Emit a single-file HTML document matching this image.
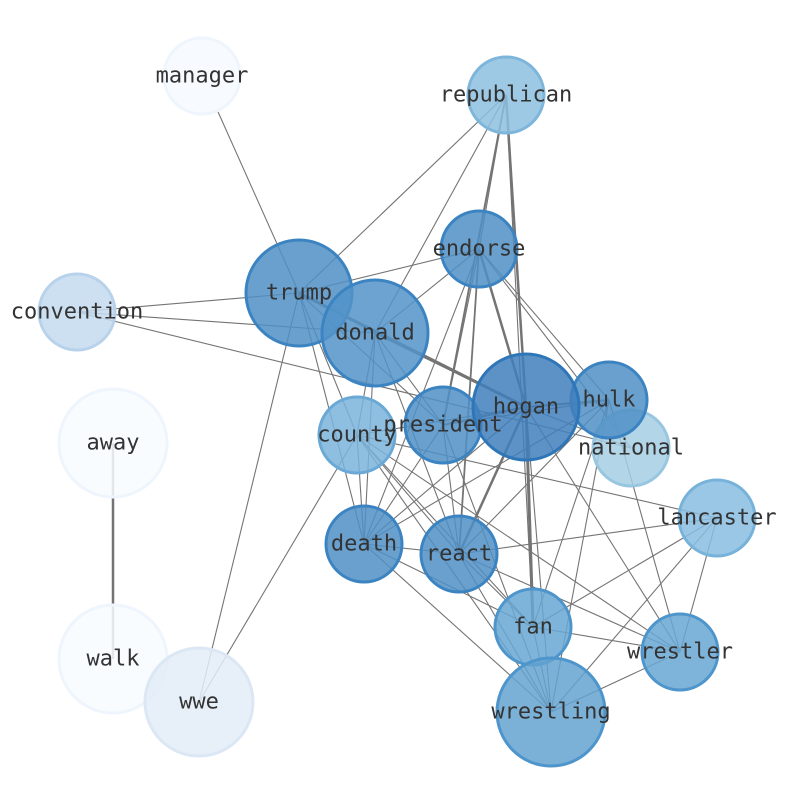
<!DOCTYPE html>
<html><head><meta charset="utf-8"><style>
html,body{margin:0;padding:0;background:#fff;width:794px;height:790px;overflow:hidden}
text{font-family:"DejaVu Sans Mono","Liberation Mono",monospace;font-size:22px;fill:#333;text-anchor:middle;dominant-baseline:central}
</style></head><body>
<svg width="794" height="790" xmlns="http://www.w3.org/2000/svg">
<g stroke="#666" stroke-width="1.1" opacity="0.9">
<line x1="202" y1="76" x2="299" y2="293"/>
<line x1="506" y1="95" x2="299" y2="293"/>
<line x1="506" y1="95" x2="375" y2="333"/>
<line x1="506" y1="95" x2="526" y2="407" stroke-width="2.5"/>
<line x1="506" y1="95" x2="443" y2="425" stroke-width="2"/>
<line x1="506" y1="95" x2="533" y2="627"/>
<line x1="506" y1="95" x2="479" y2="249"/>
<line x1="479" y1="249" x2="299" y2="293"/>
<line x1="479" y1="249" x2="375" y2="333"/>
<line x1="479" y1="249" x2="526" y2="407" stroke-width="2.5"/>
<line x1="479" y1="249" x2="609" y2="400"/>
<line x1="479" y1="249" x2="631" y2="448"/>
<line x1="479" y1="249" x2="364" y2="544"/>
<line x1="479" y1="249" x2="459" y2="554" stroke-width="1.8"/>
<line x1="479" y1="249" x2="443" y2="425"/>
<line x1="299" y1="293" x2="77" y2="312"/>
<line x1="299" y1="293" x2="375" y2="333"/>
<line x1="299" y1="293" x2="526" y2="407" stroke-width="3"/>
<line x1="299" y1="293" x2="364" y2="544"/>
<line x1="299" y1="293" x2="199" y2="702"/>
<line x1="299" y1="293" x2="443" y2="425"/>
<line x1="299" y1="293" x2="357" y2="435"/>
<line x1="77" y1="312" x2="375" y2="333"/>
<line x1="77" y1="312" x2="631" y2="448"/>
<line x1="375" y1="333" x2="526" y2="407" stroke-width="2"/>
<line x1="375" y1="333" x2="443" y2="425"/>
<line x1="375" y1="333" x2="357" y2="435"/>
<line x1="375" y1="333" x2="364" y2="544"/>
<line x1="375" y1="333" x2="459" y2="554"/>
<line x1="526" y1="407" x2="609" y2="400" stroke-width="2"/>
<line x1="526" y1="407" x2="443" y2="425" stroke-width="2"/>
<line x1="526" y1="407" x2="459" y2="554" stroke-width="2.5"/>
<line x1="526" y1="407" x2="533" y2="627" stroke-width="3"/>
<line x1="526" y1="407" x2="551" y2="712"/>
<line x1="526" y1="407" x2="364" y2="544"/>
<line x1="526" y1="407" x2="680" y2="652"/>
<line x1="526" y1="407" x2="357" y2="435"/>
<line x1="526" y1="407" x2="631" y2="448"/>
<line x1="609" y1="400" x2="443" y2="425"/>
<line x1="609" y1="400" x2="459" y2="554"/>
<line x1="609" y1="400" x2="533" y2="627"/>
<line x1="609" y1="400" x2="551" y2="712"/>
<line x1="609" y1="400" x2="364" y2="544"/>
<line x1="609" y1="400" x2="680" y2="652"/>
<line x1="357" y1="435" x2="459" y2="554"/>
<line x1="357" y1="435" x2="533" y2="627"/>
<line x1="357" y1="435" x2="551" y2="712"/>
<line x1="357" y1="435" x2="680" y2="652"/>
<line x1="357" y1="435" x2="717" y2="518"/>
<line x1="357" y1="435" x2="364" y2="544"/>
<line x1="357" y1="435" x2="199" y2="702"/>
<line x1="443" y1="425" x2="459" y2="554"/>
<line x1="443" y1="425" x2="364" y2="544"/>
<line x1="443" y1="425" x2="551" y2="712"/>
<line x1="717" y1="518" x2="459" y2="554"/>
<line x1="717" y1="518" x2="533" y2="627"/>
<line x1="717" y1="518" x2="551" y2="712"/>
<line x1="717" y1="518" x2="680" y2="652"/>
<line x1="364" y1="544" x2="459" y2="554"/>
<line x1="364" y1="544" x2="533" y2="627"/>
<line x1="364" y1="544" x2="551" y2="712"/>
<line x1="459" y1="554" x2="533" y2="627"/>
<line x1="459" y1="554" x2="551" y2="712"/>
<line x1="459" y1="554" x2="680" y2="652"/>
<line x1="533" y1="627" x2="551" y2="712"/>
<line x1="533" y1="627" x2="680" y2="652"/>
<line x1="680" y1="652" x2="551" y2="712"/>
<line x1="113" y1="443" x2="113" y2="659" stroke-width="2.5"/>
</g>
<g stroke-width="3">
<circle cx="202" cy="76" r="38" fill="#f7fbff" stroke="#eef5fd"/>
<circle cx="113" cy="443" r="54" fill="#f7fbff" stroke="#eef5fd" fill-opacity="0.85"/>
<circle cx="113" cy="659" r="54" fill="#f7fbff" stroke="#eef5fd" fill-opacity="0.85"/>
<circle cx="199" cy="702" r="54" fill="#e3ecf7" stroke="#dbe7f4" fill-opacity="0.85"/>
<circle cx="77" cy="312" r="38" fill="#c4daee" stroke="#b7d2ea" fill-opacity="0.85"/>
<circle cx="506" cy="95" r="38" fill="#8cc0e1" stroke="#7db5db" fill-opacity="0.85"/>
<circle cx="631" cy="448" r="38" fill="#a6cee4" stroke="#98c6e0" fill-opacity="0.85"/>
<circle cx="357" cy="435" r="38" fill="#7ab3da" stroke="#6aa9d5" fill-opacity="0.85"/>
<circle cx="717" cy="518" r="38" fill="#88bde0" stroke="#77b2da" fill-opacity="0.85"/>
<circle cx="680" cy="652" r="38" fill="#68a7d3" stroke="#4d95cb" fill-opacity="0.85"/>
<circle cx="533" cy="627" r="38" fill="#68a7d3" stroke="#4d95cb" fill-opacity="0.85"/>
<circle cx="551" cy="712" r="54" fill="#64a2d0" stroke="#4d95cb" fill-opacity="0.85"/>
<circle cx="364" cy="544" r="38" fill="#4f8fc5" stroke="#3c84c1" fill-opacity="0.85"/>
<circle cx="459" cy="554" r="38" fill="#4f8fc5" stroke="#3c84c1" fill-opacity="0.85"/>
<circle cx="443" cy="425" r="38" fill="#4f8fc5" stroke="#3c84c1" fill-opacity="0.85"/>
<circle cx="479" cy="249" r="38" fill="#4f8fc5" stroke="#3c84c1" fill-opacity="0.85"/>
<circle cx="609" cy="400" r="38" fill="#4f8fc5" stroke="#3c84c1" fill-opacity="0.85"/>
<circle cx="299" cy="293" r="53" fill="#4f8fc5" stroke="#3c84c1" fill-opacity="0.85"/>
<circle cx="375" cy="333" r="53" fill="#5293c8" stroke="#3c84c1" fill-opacity="0.85"/>
<circle cx="526" cy="407" r="53" fill="#3f7fbc" stroke="#2f76b8" fill-opacity="0.85"/>
</g>
<text x="202" y="76">manager</text>
<text x="506" y="95">republican</text>
<text x="479" y="249">endorse</text>
<text x="299" y="293">trump</text>
<text x="77" y="312">convention</text>
<text x="375" y="333">donald</text>
<text x="526" y="407">hogan</text>
<text x="609" y="400">hulk</text>
<text x="443" y="425">president</text>
<text x="357" y="435">county</text>
<text x="631" y="448">national</text>
<text x="113" y="443">away</text>
<text x="717" y="518">lancaster</text>
<text x="364" y="544">death</text>
<text x="459" y="554">react</text>
<text x="533" y="627">fan</text>
<text x="680" y="652">wrestler</text>
<text x="113" y="659">walk</text>
<text x="199" y="702">wwe</text>
<text x="551" y="712">wrestling</text>
</svg>
</body></html>
